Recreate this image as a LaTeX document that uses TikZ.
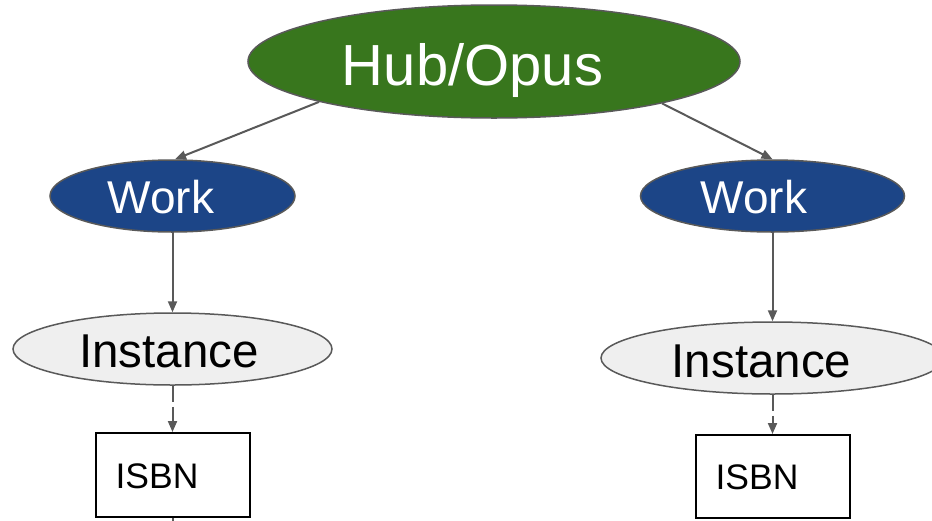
\documentclass[tikz,border=0pt]{standalone}
\usepackage{fontspec}
\setmainfont{Liberation Sans}
\usetikzlibrary{shapes.geometric,arrows.meta}
\definecolor{hubgreen}{HTML}{38761D}
\definecolor{workblue}{HTML}{1C4587}
\definecolor{instgrey}{HTML}{EFEFEF}
\definecolor{edgegrey}{HTML}{595959}
\begin{document}
\begin{tikzpicture}[x=1pt,y=-1pt,
 oval/.style={ellipse,draw=edgegrey,line width=1.5pt,inner sep=0pt},
 hubnode/.style={oval,fill=hubgreen,minimum width=492pt,minimum height=113pt},
 worknode/.style={oval,fill=workblue,minimum height=72pt},
 instnode/.style={oval,fill=instgrey,minimum height=72pt},
 isbnbox/.style={rectangle,draw=black,line width=2pt,inner sep=0pt,minimum width=154pt},
 lbl/.style={anchor=base,inner sep=0pt},
 link/.style={draw=edgegrey,line width=2pt,-{Triangle[length=11pt,width=9pt]}},
 dlink/.style={link,dash pattern=on 16pt off 5pt}]
\useasboundingbox (0,0) rectangle (932,520);
\clip (0,0) rectangle (932,520);
\fill[white] (0,0) rectangle (932,520);
% shapes
\node[hubnode] (hub) at (494,61.5) {};
\node[worknode,minimum width=245pt] (lw) at (172.5,196) {};
\node[worknode,minimum width=264pt] (rw) at (772.5,196) {};
\node[instnode,minimum width=319pt] (li) at (172.5,349) {};
\node[instnode,minimum width=343pt] (ri) at (772.5,358) {};
\node[isbnbox,minimum height=84pt] (lb) at (173,475) {};
\node[isbnbox,minimum height=83pt] (rb) at (773,476.5) {};
\coordinate (lbelow) at (173,545);
% labels
\node[lbl,text=white,font=\fontsize{58}{60}\selectfont] (thub) at (472.5,85) {Hub/Opus};
\node[lbl,text=white,font=\fontsize{46}{48}\selectfont] (tlw) at (161,213) {Work};
\node[lbl,text=white,font=\fontsize{46}{48}\selectfont] (trw) at (754,213) {Work};
\node[lbl,text=black,font=\fontsize{47.5}{50}\selectfont] (tli) at (169,367) {Instance};
\node[lbl,text=black,font=\fontsize{47.5}{50}\selectfont] (tri) at (761.5,377) {Instance};
\node[lbl,text=black,font=\fontsize{35.5}{38}\selectfont] (tlb) at (157,488) {ISBN};
\node[lbl,text=black,font=\fontsize{35.5}{38}\selectfont] (trb) at (757,489) {ISBN};
% connectors
\draw[link] (hub.193.6) -- (lw.86);
\draw[link] (hub.346.6) -- (rw.north);
\draw[link] (lw.south) -- (li.north);
\draw[link] (rw.south) -- (ri.north);
\draw[dlink] (li.south) -- (li.south |- lb.north);
\draw[dlink] (ri.south) -- (ri.south |- rb.north);
\draw[link] (lb.south) -- (lbelow);
\end{tikzpicture}
\end{document}
